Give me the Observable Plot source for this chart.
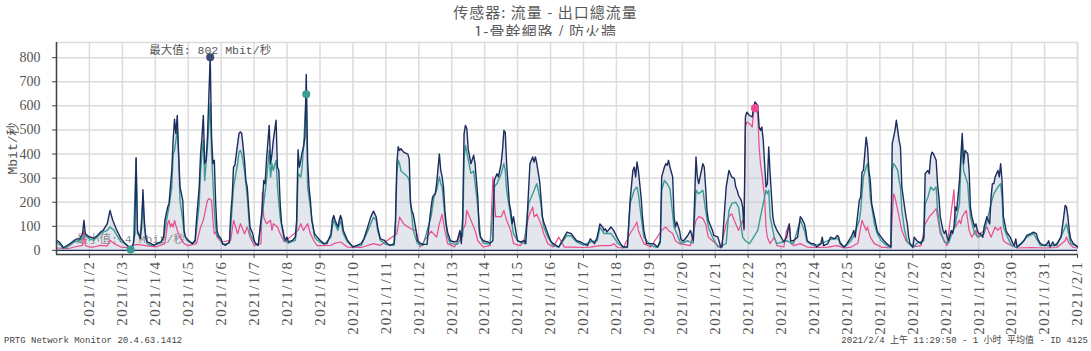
<!DOCTYPE html>
<html><head><meta charset="utf-8">
<script src="https://cdn.jsdelivr.net/npm/d3@7"></script>
<script src="https://cdn.jsdelivr.net/npm/@observablehq/plot@0.6"></script>
<style>
body{margin:0;background:#fff;}
#wrap{position:relative;width:1091px;height:351px;overflow:hidden;font-family:"Noto Sans CJK SC",sans-serif;}
#title{position:absolute;top:2px;left:0;width:1091px;text-align:center;font-size:15px;line-height:19px;letter-spacing:1px;white-space:pre;color:#5a5a5a;}
#chart{position:absolute;top:36px;left:0;}
.foot{position:absolute;top:335px;font-family:"Liberation Mono","Noto Sans CJK SC",monospace;font-size:9px;line-height:12px;color:#444;white-space:nowrap;}
</style></head>
<body>
<div id="wrap">
  <div id="title">传感器: 流量 - 出口總流量
1-骨幹網路 / 防火牆</div>
  <div id="chart"></div>
  <div class="foot" style="left:4px">PRTG Network Monitor 20.4.63.1412</div>
  <div class="foot" style="right:3px">2021/2/4 上午 11:29:50 - 1 小时 平均值 - ID 4125</div>
</div>
<script>
// hours since 2021-01-01 00:00, value in Mbit/s
const totalSeries = [[0,42],[2,35],[3,28],[4,21],[5,11],[8,21],[10,28],[13,42],[15,48],[17,48],[19,69],[20,125],[21,69],[24,55],
[25,55],[27,50],[30,62],[32,76],[34,83],[37,111],[39,166],[40,145],[41,125],[42,111],[44,83],[47,48],
[48,42],[50,28],[53,14],[54,5],[55,17],[56,28],[57,69],[58,385],[59,83],[61,48],[62,97],[63,252],[64,125],[65,55],[66,35],[69,28],[71,21],
[73,28],[76,35],[78,55],[79,125],[81,180],[82,194],[83,263],[84,332],[85,457],[86,545],[87,485],[88,560],[89,400],[90,263],[92,208],[93,83],[94,55],[95,48],
[96,42],[99,28],[101,42],[102,125],[104,263],[105,400],[106,470],[107,560],[108,360],[109,374],[110,470],[112,802],[113,470],[114,360],[115,374],[116,194],[117,83],[118,62],[120,48],
[121,28],[123,21],[126,35],[127,152],[128,222],[129,346],[130,353],[132,443],[133,485],[134,492],[135,485],[137,374],[138,290],[139,263],[140,180],[141,97],[143,69],[144,42],
[145,28],[147,21],[150,180],[151,290],[152,277],[153,374],[155,519],[156,360],[157,400],[158,457],[160,540],[161,346],[162,332],[163,194],[164,111],[166,55],[167,42],
[168,55],[169,35],[172,42],[174,55],[175,125],[176,418],[177,346],[178,374],[179,408],[180,430],[181,470],[182,730],[183,374],[184,263],[185,208],[186,125],[188,69],[190,55],
[192,42],[195,28],[197,28],[200,69],[201,125],[202,145],[203,125],[205,97],[206,125],[207,145],[208,125],[209,83],[212,42],[214,28],[216,14],
[217,17],[219,21],[222,28],[224,48],[226,83],[229,138],[231,163],[233,138],[234,97],[236,48],[239,42],
[240,35],[241,28],[243,21],[246,28],[247,125],[248,360],[249,430],[250,415],[251,422],[253,408],[256,400],[257,380],[258,195],[259,165],[260,150],[262,83],[263,40],[265,30],[267,25],[270,25],
[271,83],[273,180],[274,220],[275,230],[276,235],[277,277],[279,400],[280,332],[281,305],[282,263],[283,166],[284,110],[285,76],[287,40],[290,35],[292,40],[294,83],
[295,28],[296,140],[297,485],[298,519],[299,505],[300,420],[302,360],[304,395],[305,360],[307,221],[308,83],[309,55],[311,40],[314,35],
[316,30],[318,40],[319,290],[320,305],[321,318],[322,305],[324,360],[325,415],[326,498],[327,490],[328,360],[330,194],[331,166],[332,110],[333,140],[335,70],[336,40],
[338,35],[341,40],[342,28],[344,250],[345,360],[347,388],[348,367],[349,388],[350,360],[352,290],[353,221],[354,140],[355,118],[358,70],[360,40],
[362,28],[366,14],[370,55],[372,76],[375,70],[377,55],[379,40],[382,35],[384,28],
[387,20],[389,48],[392,28],[394,55],[396,110],[398,97],[399,83],[400,90],[401,76],[404,97],[406,83],[409,48],
[411,28],[413,14],[416,14],[417,110],[418,208],[420,332],[421,346],[422,305],[423,367],[424,332],[426,221],[427,140],[428,83],[430,28],[433,28],
[435,28],[438,14],[440,40],[441,305],[443,346],[444,360],[445,353],[446,374],[447,346],[449,305],[450,140],[451,97],[452,118],[454,83],[455,48],[456,40],
[457,40],[460,62],[462,83],[464,40],[466,388],[467,305],[468,277],[469,305],[471,360],[472,346],[473,263],[474,166],[475,125],[477,97],[478,83],[479,62],[482,55],[484,14],
[485,14],[488,263],[490,332],[491,318],[492,305],[494,298],[495,263],[496,250],[497,228],[499,208],[500,180],[501,90],
[502,554],[503,574],[505,560],[507,554],[508,595],[509,616],[511,602],[512,512],[513,498],[514,512],[515,457],[517,263],[518,277],[519,429],[520,318],[522,140],[523,110],[525,83],[528,55],
[530,35],[532,55],[534,110],[535,40],[537,40],[540,55],[541,97],[542,140],[543,133],[545,110],[546,83],[547,40],[550,28],
[552,28],[554,14],[557,28],[558,55],[559,20],[562,28],[564,55],[567,48],[569,62],[570,55],[571,28],[574,14],
[576,28],[579,55],[581,83],[582,55],[585,208],[586,221],[587,325],[588,332],[590,470],[591,429],[592,332],[593,290],[594,194],[596,140],[597,110],[598,83],[599,70],[601,55],
[603,40],[605,28],[608,14],[609,443],[610,470],[611,498],[612,540],[613,498],[614,457],[615,429],[616,263],[618,180],[619,140],[620,110],[621,55],[622,28],[624,14],
[625,55],[627,40],[630,28],[632,55],[633,318],[635,332],[636,318],[637,388],[638,408],[639,401],[641,374],[642,277],[643,221],[644,140],[646,83],[647,70],[648,83],
[649,55],[650,40],[652,83],[653,70],[654,97],[655,180],[656,166],[658,290],[659,388],[660,485],[661,360],[662,415],[664,401],[665,332],[666,180],[667,140],[669,97],[670,110],[671,83],[672,70],
[673,70],[675,55],[676,97],[678,140],[680,110],[681,221],[682,277],[683,277],[684,305],[686,332],[687,305],[688,360],[689,290],[690,140],[692,83],[693,70],[695,55],
[697,28],[698,20],[699,48],[700,14],[703,28],[705,40],[707,62],[710,70],[712,76],[714,70],[715,48],[717,28],[720,20],
[722,28],[723,40],[724,14],[726,35],[727,20],[729,28],[732,55],[734,140],[735,187],[736,180],[737,140],[738,83],[739,48],[741,28],[743,20],[744,15]];

const tealSeries = [[0,35],[3,21],[5,7],[8,14],[13,35],[17,42],[21,62],[24,48],
[27,42],[32,69],[34,76],[37,83],[39,97],[42,83],[44,62],[47,35],
[50,28],[54,4],[56,20],[58,380],[59,69],[61,62],[63,207],[64,97],[66,28],[69,21],
[73,25],[76,30],[78,45],[79,83],[81,152],[82,180],[83,222],[84,263],[85,400],[86,415],[88,500],[89,388],[90,208],[92,125],[93,69],[95,42],
[99,28],[101,35],[102,83],[104,194],[105,332],[106,400],[107,457],[108,290],[110,430],[112,610],[113,400],[115,166],[116,97],[117,62],[120,40],
[121,25],[126,30],[127,97],[129,263],[132,360],[133,408],[134,415],[135,400],[137,332],[139,222],[141,69],[144,35],
[147,21],[150,152],[151,194],[153,290],[155,415],[156,304],[157,360],[158,332],[160,374],[161,263],[163,138],[166,42],
[169,30],[174,42],[175,83],[176,318],[178,304],[179,346],[180,430],[182,648],[183,263],[185,180],[188,55],[190,42],
[195,25],[200,55],[201,97],[202,125],[205,83],[207,125],[209,69],[212,35],[216,15],
[222,20],[226,69],[229,111],[231,138],[233,125],[234,83],[236,42],[240,25],
[246,21],[247,83],[248,318],[249,374],[250,360],[251,330],[253,320],[256,305],[257,290],[258,195],[260,83],[263,28],[267,20],
[273,140],[275,220],[277,250],[279,305],[280,277],[281,263],[283,140],[285,55],[287,28],[292,25],
[296,60],[297,380],[298,436],[302,320],[304,330],[307,180],[309,55],[311,30],
[316,25],[319,263],[321,277],[324,318],[326,360],[327,332],[328,250],[331,140],[333,70],[336,40],
[341,28],[344,194],[347,235],[349,263],[350,277],[353,194],[355,97],[358,55],[362,20],
[366,14],[372,62],[375,60],[379,35],[384,22],
[389,35],[394,40],[396,97],[399,70],[404,70],[406,55],[409,30],
[413,12],[416,12],[418,194],[421,250],[423,263],[424,235],[426,140],[428,55],[433,20],
[438,12],[440,30],[441,250],[443,290],[445,277],[447,256],[450,97],[452,70],[455,28],
[460,40],[464,30],[466,250],[468,235],[471,250],[473,166],[475,97],[478,55],[482,14],
[488,28],[490,166],[492,194],[495,200],[497,180],[500,55],[502,40],
[505,28],[508,55],[511,83],[513,140],[515,194],[517,250],[518,235],[519,250],[520,140],[523,55],[525,28],
[532,40],[537,28],[542,125],[545,83],[547,35],[550,25],
[552,20],[558,30],[564,45],[569,50],[574,12],
[579,40],[581,60],[585,125],[586,166],[588,305],[590,346],[591,360],[592,305],[593,221],[596,110],[598,70],[601,40],
[605,20],[608,12],[609,332],[610,360],[611,353],[613,332],[614,290],[615,263],[616,166],[618,83],[620,35],[624,12],
[627,30],[632,40],[633,194],[635,221],[637,263],[639,250],[641,263],[642,166],[644,83],[647,35],
[650,30],[655,110],[656,140],[658,194],[659,360],[660,457],[661,332],[664,277],[665,194],[666,140],[669,70],[672,55],
[676,70],[681,194],[683,235],[686,263],[688,277],[689,221],[690,97],[693,55],[696,20],
[700,12],[707,55],[712,70],[715,40],[717,20],
[722,20],[729,20],[734,83],[736,110],[737,83],[739,30],[744,15]];

const pinkSeries = [[0,10],[8,7],[13,14],[19,21],[20,83],[21,20],[24,14],
[27,14],[32,21],[37,18],[39,42],[42,28],[47,14],
[53,11],[56,21],[59,25],[64,21],[69,17],
[73,15],[79,28],[81,111],[82,125],[83,97],[84,111],[85,97],[86,125],[88,83],[90,55],[93,28],
[96,20],[102,28],[105,97],[107,125],[110,207],[111,215],[113,207],[114,125],[115,69],[116,76],[117,55],[120,35],
[127,42],[129,125],[132,69],[134,111],[137,69],[139,97],[141,55],[144,20],
[149,28],[150,242],[151,138],[153,111],[156,125],[157,83],[158,111],[161,97],[163,69],[166,35],
[176,83],[178,111],[180,83],[183,111],[185,69],[188,35],[190,20],
[200,21],[202,28],[207,35],[212,14],
[222,12],[231,28],[236,21],
[248,69],[250,138],[253,110],[258,90],[262,83],[265,14],
[273,80],[277,55],[279,110],[281,150],[283,83],[285,28],[290,14],
[296,83],[298,110],[299,166],[302,125],[305,83],[307,40],[311,14],
[316,20],[318,305],[320,140],[324,140],[326,166],[328,125],[331,83],[333,28],
[338,20],[341,48],[344,140],[347,180],[348,140],[350,150],[353,110],[355,70],[358,28],
[362,14],[366,55],[370,14],[377,14],[384,12],
[389,14],[396,20],[404,20],[406,28],[409,12],
[413,10],[418,70],[421,97],[423,118],[424,83],[426,55],[428,28],[433,14],
[441,83],[444,97],[446,83],[449,70],[451,40],[454,28],
[462,20],[466,125],[468,140],[471,133],[473,110],[475,55],[478,40],[484,10],
[488,110],[490,140],[492,152],[495,110],[497,83],[500,125],[501,83],
[502,512],[503,533],[505,526],[507,512],[508,581],[509,590],[511,567],[512,429],[513,360],[514,318],[516,221],[517,97],[518,55],[520,28],[523,55],[525,20],
[530,14],[532,83],[534,110],[535,30],[537,20],[542,28],[547,14],
[552,12],[562,14],[569,20],[574,10],
[579,14],[584,30],[586,97],[587,125],[588,110],[590,83],[591,97],[593,55],[596,28],[601,14],
[608,10],[609,140],[610,235],[611,221],[613,166],[614,140],[615,110],[616,83],[619,40],[624,14],
[630,20],[633,110],[636,140],[638,152],[641,173],[642,140],[644,70],[647,40],
[649,20],[654,252],[655,97],[658,125],[659,110],[660,140],[663,166],[665,83],[667,55],[670,83],[671,55],
[673,70],[676,83],[678,97],[681,55],[683,83],[684,97],[686,83],[688,97],[690,40],[693,28],
[700,10],[710,12],[720,10],
[729,12],[735,40],[736,55],[738,28],[741,12],[744,10]];

const markers = [
  {h:112, v:802, c:"#3d4c77"},
  {h:182, v:648, c:"#3a9c94"},
  {h:509, v:590, c:"#ea4b8f"},
  {h:54, v:4, c:"#3a9c94"}
];
const maxLabel = "最大值: 802 Mbit/秒";
const minLabel = "最小值: 4 Mbit/秒";
const yLabel = "Mbit/秒";
const yTicks = [0,100,200,300,400,500,600,700,800];

const t0 = Date.UTC(2021,0,1);
const toDate = h => new Date(t0 + h*3600e3);
const conv = arr => arr.map(([h,v]) => ({t: toDate(h), v}));
const total = conv(totalSeries), teal = conv(tealSeries), pink = conv(pinkSeries);
const mk = markers.map(m => ({t: toDate(m.h), v: m.v, c: m.c}));
const dayTicks = d3.utcDay.range(new Date(Date.UTC(2021,0,2)), new Date(Date.UTC(2021,1,2)));
const fmt = d => `${d.getUTCFullYear()}/${d.getUTCMonth()+1}/${d.getUTCDate()}`;
const NAVY = "#1c2d5e", TEAL = "#3a9c94", PINK = "#ea4b8f";
const monoFont = "'Liberation Mono','Noto Sans CJK SC',monospace";

const chart = Plot.plot({
  width: 1091, height: 300,
  marginLeft: 56, marginRight: 14, marginTop: 6, marginBottom: 82,
  style: {background: "#fff", fontFamily: "'Liberation Serif','Noto Sans CJK SC',serif", color: "#555"},
  x: {type: "utc", domain: [new Date(t0), new Date(Date.UTC(2021,1,1))]},
  y: {domain: [-17, 863]},
  marks: [
    Plot.frame({stroke: "#dcdcdc", strokeWidth: 1.5}),
    Plot.gridX({ticks: dayTicks, stroke: "#dcdcdc", strokeOpacity: 1, strokeWidth: 1.5}),
    Plot.gridY({ticks: yTicks, stroke: "#dcdcdc", strokeOpacity: 1, strokeWidth: 1.5}),
    Plot.areaY(total, {x: "t", y: "v", fill: "#b8c0d0", fillOpacity: 0.4}),
    Plot.ruleY([0], {stroke: NAVY, strokeWidth: 1.2}),
    Plot.text([mk[3]], {x: "t", y: "v", text: () => minLabel, dy: -10, fontSize: 11.5, fill: "#777", fillOpacity: 0.85, fontFamily: monoFont}),
    Plot.line(pink, {x: "t", y: "v", stroke: PINK, strokeWidth: 1.2}),
    Plot.line(teal, {x: "t", y: "v", stroke: TEAL, strokeWidth: 1.4}),
    Plot.line(total, {x: "t", y: "v", stroke: NAVY, strokeWidth: 1.4}),
    Plot.dot(mk, {x: "t", y: "v", r: 3.3, fill: "c", stroke: "c"}),
    Plot.text([mk[0]], {x: "t", y: "v", text: () => maxLabel, dy: -7, fontSize: 11.5, fill: "#555", fontFamily: monoFont}),
    Plot.ruleX([new Date(t0)], {stroke: "#444", strokeWidth: 1.5}),
    Plot.ruleY([-17], {stroke: "#444", strokeWidth: 1.5}),
    Plot.axisY({ticks: yTicks, tickSize: 4, tickPadding: 12, fontSize: 14, label: null, stroke: "#444", fill: "#555"}),
    Plot.axisX({ticks: dayTicks, tickFormat: fmt, tickRotate: -90, tickSize: 4, tickPadding: 2, fontSize: 15, label: null, stroke: "#444", fill: "#555"}),
    Plot.text([yLabel], {frameAnchor: "left", dx: -44, rotate: -90, textAnchor: "middle", fontSize: 13, fill: "#555", fontFamily: monoFont})
  ]
});
chart.querySelectorAll('g[aria-label="x-axis tick label"] text').forEach(t => t.setAttribute("letter-spacing", "1.5"));
document.getElementById("chart").appendChild(chart);
</script>
</body></html>
